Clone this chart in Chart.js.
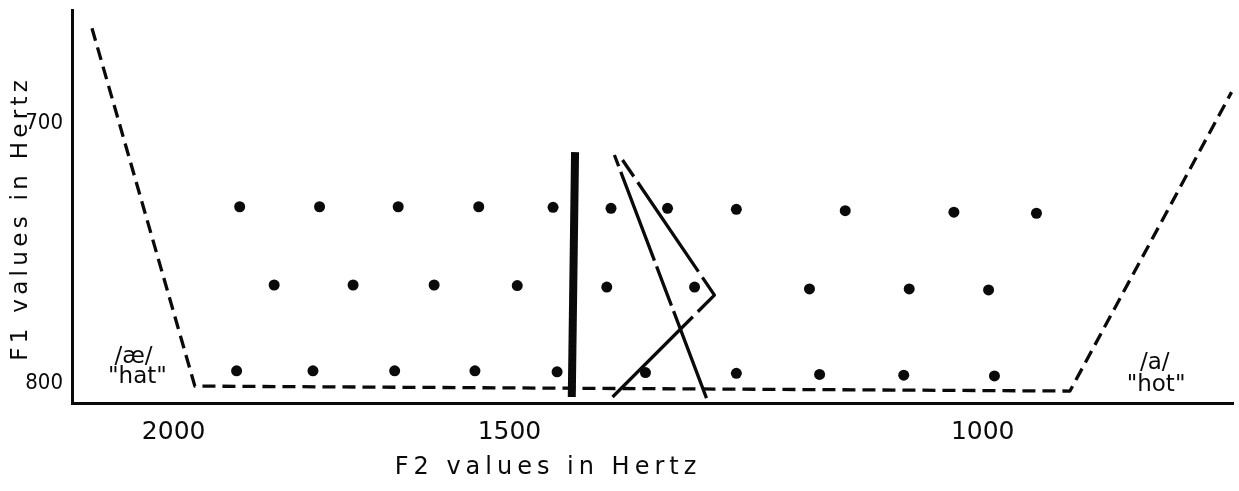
<!DOCTYPE html>
<html>
<head>
<meta charset="utf-8">
<script src="https://cdn.jsdelivr.net/npm/chart.js@4.4.1/dist/chart.umd.min.js"></script>
<style>
  html, body { margin: 0; padding: 0; background: #fff; }
  #wrap { width: 1239px; height: 491px; position: relative; }
</style>
</head>
<body>
<div id="wrap"><canvas id="c" width="1239" height="491"></canvas></div>
<script>
// ---- data (F2 in Hz on x, F1 in Hz on y) ----
const F2_TICKS = [2000, 1500, 1000];
const F1_TICKS = [700, 800];
const X_TITLE = 'F2 values in Hertz';
const Y_TITLE = 'F1 values in Hertz';

// stimulus grid
const topRowF2 = [1890, 1765, 1650, 1540, 1445, 1375, 1310, 1235, 1125, 1025, 955];
const topRowF1 = [732.2, 732.2, 732.2, 732.2, 732.4, 732.8, 732.8, 733.2, 733.7, 734.3, 734.7];
const midRowF2 = [1835, 1715, 1600, 1490, 1380, 1280, 1160, 1065, 995];
const midRowF1 = [762.3, 762.3, 762.3, 762.5, 763.1, 763.1, 763.8, 763.8, 764.2];
const botRowF2 = [1895, 1775, 1655, 1545, 1440, 1335, 1235, 1150, 1070, 990];
const botRowF1 = [795.3, 795.3, 795.3, 795.3, 795.7, 796.0, 796.3, 796.7, 797.0, 797.3];

// vowel-space boundary (dashed)
const boundaryF2 = [2145, 1964, 928, 808];
const boundaryF1 = [663.5, 801.2, 803.1, 688.1];

// boundary responses
const solidF2 = [1418, 1422];
const solidF1 = [711.2, 805.4];
const longDashF2 = [1371, 1267];
const longDashF1 = [712.3, 805.8];
const bentF2 = [1361.5, 1258.4, 1373.2];
const bentF1 = [714.2, 766.2, 805.4];

// vowel labels (anchored in data units)
const vowelLabels = ['/æ/', '"hat"', '/a/', '"hot"'];
const vowelLabelF2 = [2070, 2063, 863, 862];
const vowelLabelF1 = [790.0, 797.7, 792.3, 800.8];

const pts = (xs, ys) => xs.map((x, i) => ({ x: x, y: ys[i] }));

const INK = '#0a0a0a';

const annot = {
  id: 'annot',
  afterDatasetsDraw(chart) {
    const { ctx, chartArea: a, scales } = chart;
    ctx.save();
    ctx.fillStyle = INK;
    ctx.textAlign = 'center';
    ctx.textBaseline = 'middle';
    ctx.font = '23px "DejaVu Sans", sans-serif';
    vowelLabels.forEach((t, i) => {
      ctx.fillText(t, scales.x.getPixelForValue(vowelLabelF2[i]), scales.y.getPixelForValue(vowelLabelF1[i]));
    });
    // axis titles
    ctx.font = '24px "DejaVu Sans", sans-serif';
    ctx.letterSpacing = '5px';
    ctx.fillText(X_TITLE, a.left + 0.41 * (a.right - a.left), a.bottom + 65);
    ctx.save();
    ctx.translate(a.left - 51, a.top + 0.53 * (a.bottom - a.top));
    ctx.rotate(-Math.PI / 2);
    ctx.font = '23px "DejaVu Sans", sans-serif';
    ctx.letterSpacing = '4.3px';
    ctx.fillText(Y_TITLE, 0, 0);
    ctx.restore();
    ctx.restore();
  }
};

const lineDs = (data, width, dash) => ({
  data: data, showLine: true, borderColor: INK, backgroundColor: INK,
  borderWidth: width, borderDash: dash, pointRadius: 0, pointHoverRadius: 0,
  borderCapStyle: 'butt', borderJoinStyle: 'round', tension: 0, fill: false
});
const dotDs = (data) => ({
  data: data, showLine: false, pointRadius: 5.5, pointHoverRadius: 5.5,
  backgroundColor: INK, borderColor: INK, borderWidth: 0
});

new Chart(document.getElementById('c'), {
  type: 'scatter',
  data: {
    datasets: [
      lineDs(pts(boundaryF2, boundaryF1), 3.3, [13, 7]),
      lineDs(pts(solidF2, solidF1), 8, []),
      lineDs(pts(longDashF2, longDashF1), 3.3, [12, 6, 95, 6, 42, 6, 140]),
      lineDs(pts(bentF2, bentF1), 3.3, [20, 7, 108, 7, 45, 7, 160]),
      dotDs(pts(topRowF2, topRowF1)),
      dotDs(pts(midRowF2, midRowF1)),
      dotDs(pts(botRowF2, botRowF1))
    ]
  },
  options: {
    responsive: false,
    animation: false,
    devicePixelRatio: 1,
    layout: { padding: { top: 10, right: 6, left: 0, bottom: 0 } },
    plugins: { legend: { display: false }, tooltip: { enabled: false }, title: { display: false } },
    scales: {
      x: {
        type: 'logarithmic', reverse: true, min: 807, max: 2182,
        afterBuildTicks: s => { s.ticks = F2_TICKS.map(v => ({ value: v })); },
        afterFit: s => { s.height = 88; s.paddingLeft = 0; s.paddingRight = 0; },
        grid: { display: false, drawTicks: false },
        border: { display: true, color: INK, width: 3 },
        ticks: {
          autoSkip: false, maxRotation: 0, padding: 14, color: INK,
          font: { family: '"DejaVu Sans", sans-serif', size: 25 },
          callback: v => String(v)
        }
      },
      y: {
        type: 'linear', reverse: true, min: 656.5, max: 807.7,
        afterBuildTicks: s => { s.ticks = F1_TICKS.map(v => ({ value: v })); },
        afterFit: s => { s.width = 72; s.paddingTop = 0; s.paddingBottom = 0; },
        grid: { display: false, drawTicks: false },
        border: { display: true, color: INK, width: 3 },
        ticks: {
          padding: 9, color: INK,
          font: { family: '"Liberation Sans Narrow", "DejaVu Sans Condensed", sans-serif', size: 22 },
          callback: v => String(v)
        }
      }
    }
  },
  plugins: [annot]
});
</script>
</body>
</html>
